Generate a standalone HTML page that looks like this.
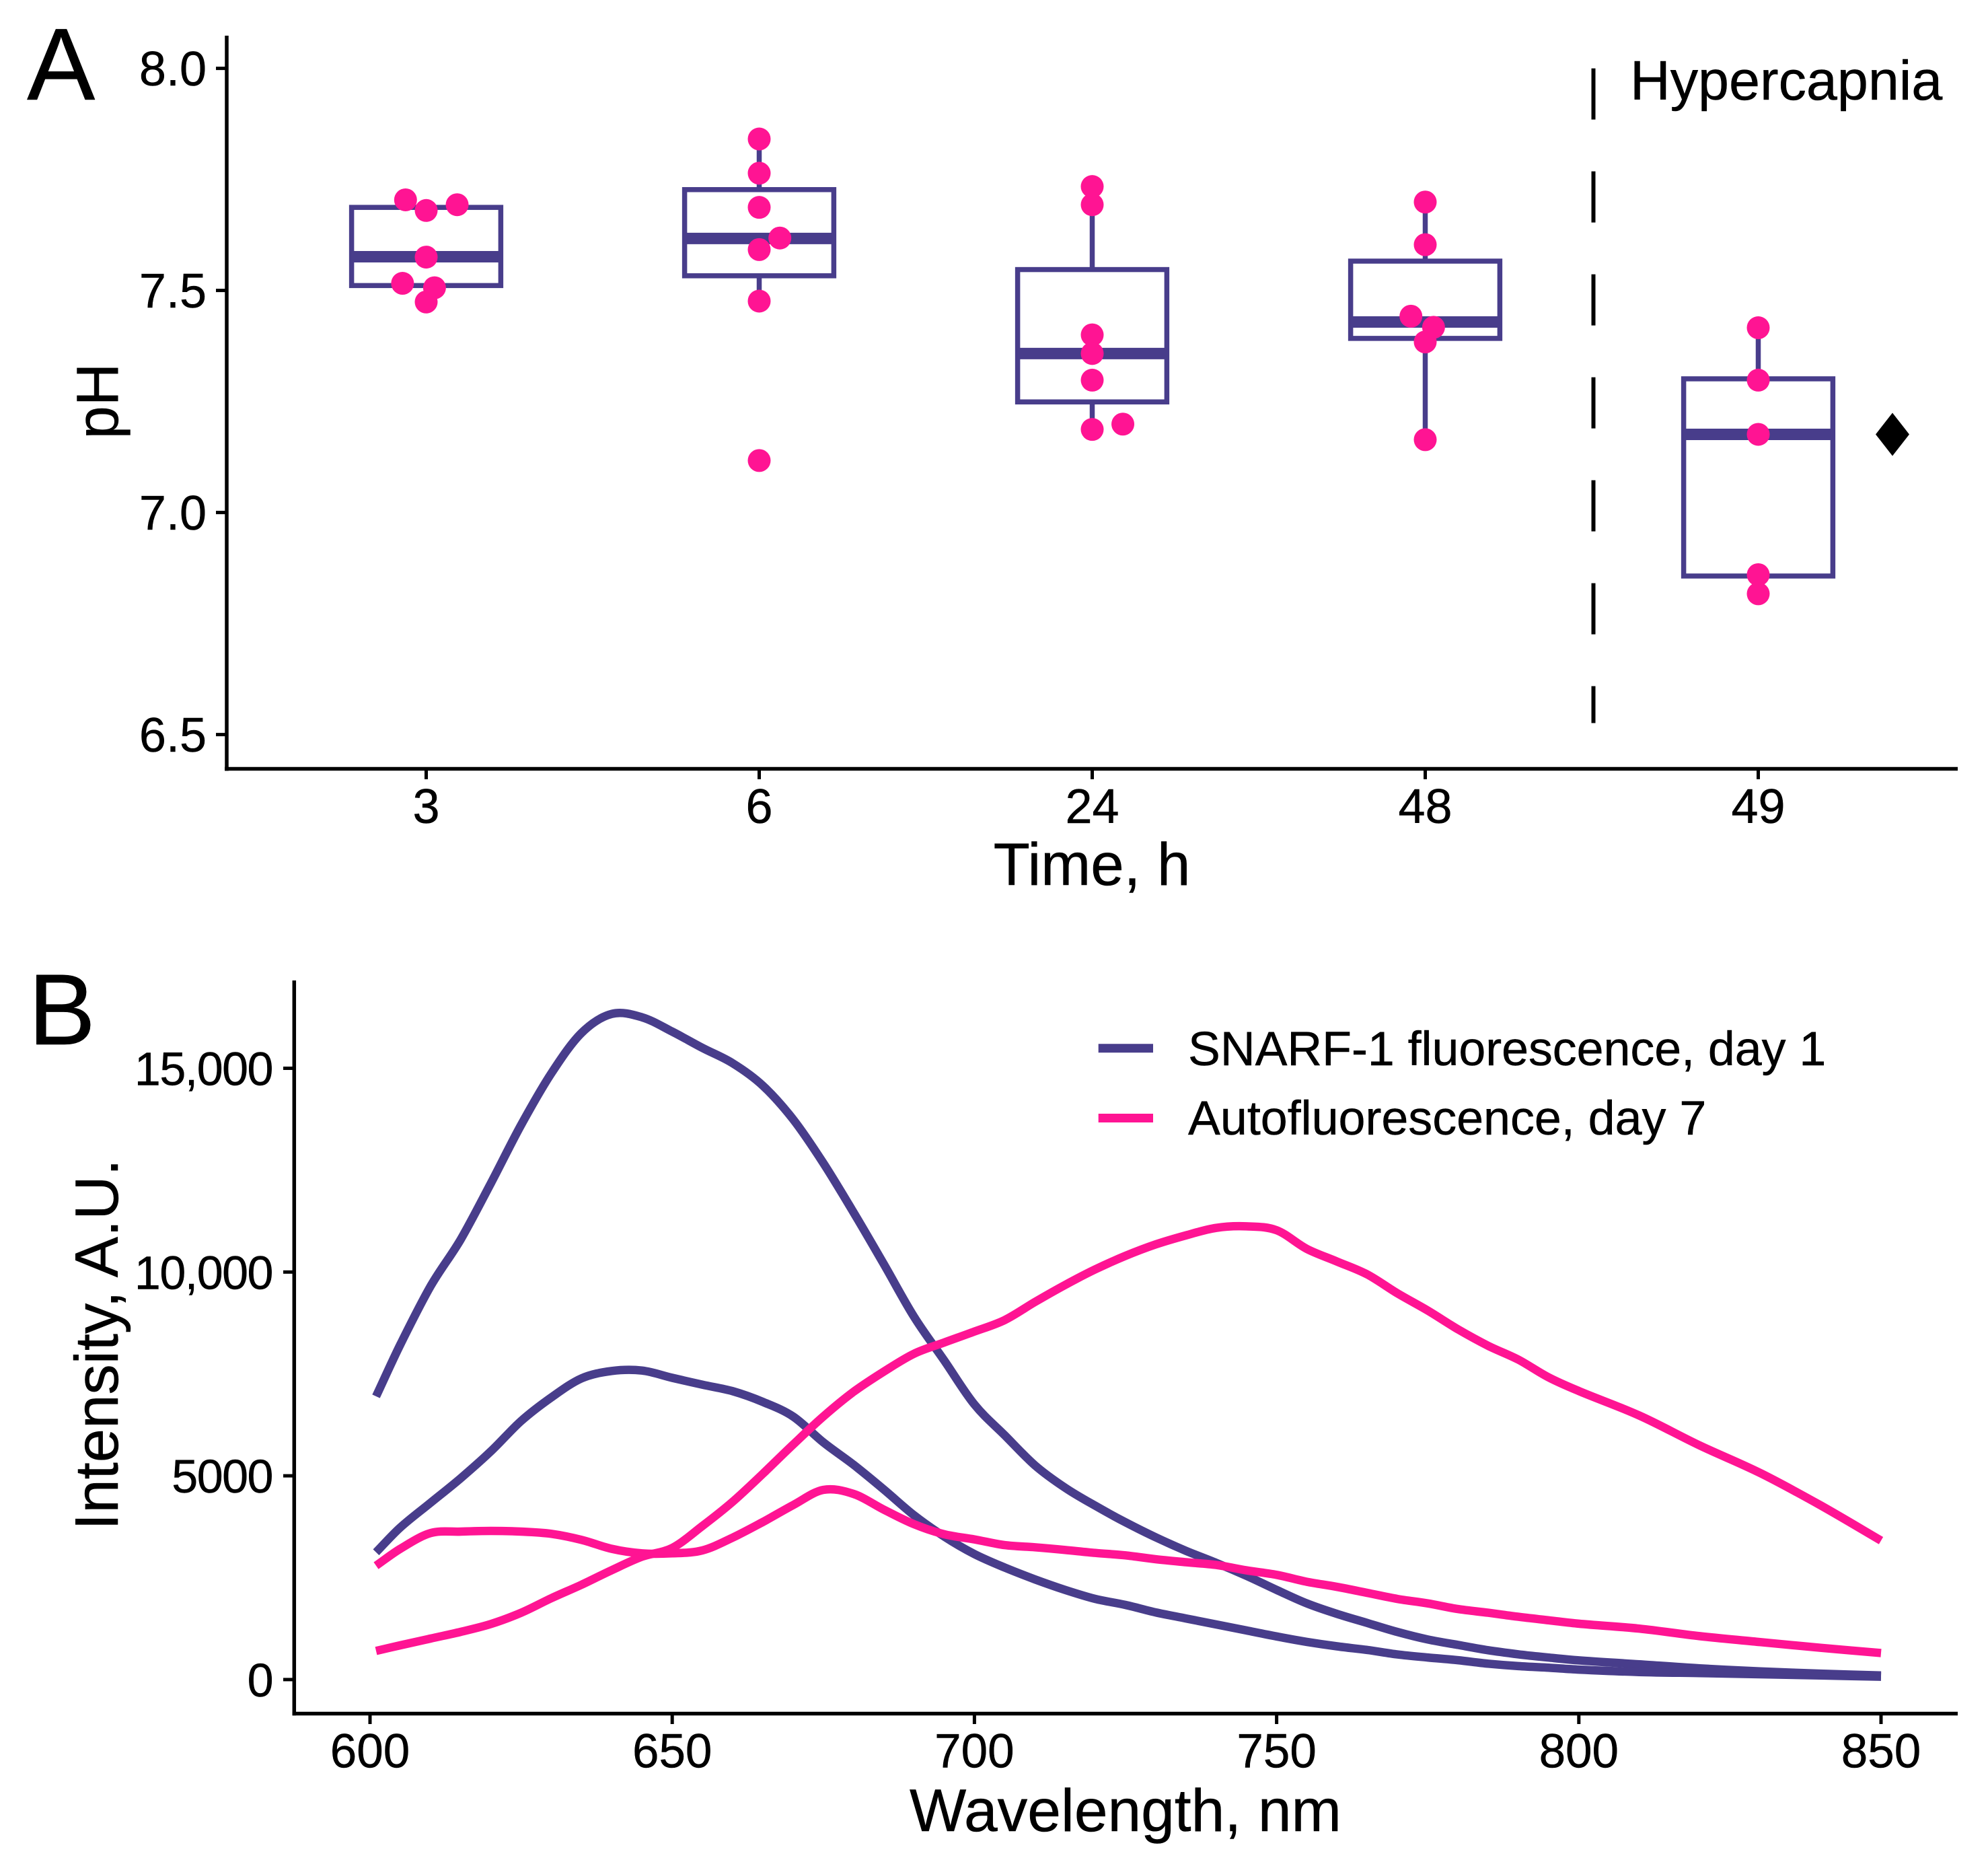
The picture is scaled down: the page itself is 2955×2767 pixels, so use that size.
<!DOCTYPE html>
<html lang="en">
<head>
<meta charset="utf-8">
<title>pH over time and fluorescence spectra</title>
<style>
html,body{margin:0;padding:0;background:#fff;}
svg{display:block;}
text{font-family:"Liberation Sans",Arial,sans-serif;fill:#000;stroke:#000;stroke-width:0.5px;}
</style>
</head>
<body>
<svg id="figure" xmlns="http://www.w3.org/2000/svg" width="2955" height="2767" viewBox="0 0 2955 2767">
  <rect x="0" y="0" width="2955" height="2767" fill="#fff"/>

  <g id="panelA">
    <text x="40" y="148" font-size="152">A</text>
    <line x1="337" y1="53" x2="337" y2="1145.5" stroke="#000" stroke-width="5.5"/>
    <line x1="334" y1="1142.5" x2="2910" y2="1142.5" stroke="#000" stroke-width="5.5"/>
    <line x1="2368.5" y1="101.6" x2="2368.5" y2="1074.5" stroke="#000" stroke-width="6" stroke-dasharray="76 77"/>
    <text x="2423" y="148" font-size="82.7">Hypercapnia</text>
    <text x="1623" y="1315" font-size="88.8" text-anchor="middle">Time, h</text>
    <text transform="translate(175 596) rotate(-90)" font-size="88" text-anchor="middle">pH</text>
  </g>

  <g id="panelB">
    <text x="42" y="1552" font-size="150">B</text>
    <line x1="437.3" y1="1457" x2="437.3" y2="2549.3" stroke="#000" stroke-width="5.5"/>
    <line x1="434.5" y1="2546.5" x2="2910" y2="2546.5" stroke="#000" stroke-width="5.5"/>
    <text x="1673" y="2721" font-size="89.3" text-anchor="middle">Wavelength, nm</text>
    <text transform="translate(175 1998) rotate(-90)" font-size="90.5" text-anchor="middle">Intensity, A.U.</text>
    <g>
      <line x1="1632.7" y1="1557.8" x2="1714" y2="1557.8" stroke="#483D8B" stroke-width="13"/>
      <text x="1766" y="1583" font-size="71.7">SNARF-1 fluorescence, day 1</text>
      <line x1="1632.7" y1="1661.5" x2="1714" y2="1661.5" stroke="#FF1493" stroke-width="13"/>
      <text x="1766" y="1686" font-size="71.8">Autofluorescence, day 7</text>
    </g>
  </g>
</svg>

<script>
// ---------- Panel A data ----------
const timeCategories = ['3', '6', '24', '48', '49'];
const phTickLabels = ['6.5', '7.0', '7.5', '8.0'];
const boxQ1 = [7.511, 7.533, 7.249, 7.392, 6.857];
const boxMedian = [7.576, 7.617, 7.358, 7.429, 7.176];
const boxQ3 = [7.687, 7.727, 7.547, 7.566, 7.301];
const whiskerLow = [7.474, 7.476, 7.187, 7.164, 6.817];
const whiskerHigh = [7.704, 7.841, 7.734, 7.699, 7.416];
const pointValues = [
  [7.704, 7.680, 7.693, 7.575, 7.516, 7.506, 7.474],
  [7.841, 7.764, 7.687, 7.618, 7.592, 7.476, 7.117],
  [7.734, 7.693, 7.400, 7.358, 7.298, 7.187, 7.199],
  [7.699, 7.603, 7.442, 7.417, 7.384, 7.164],
  [7.416, 7.298, 7.176, 6.860, 6.817]
];
const pointJitter = [
  [-0.062, 0, 0.093, 0, -0.071, 0.025, 0],
  [0, 0, 0, 0.062, 0, 0, 0],
  [0, 0, 0, 0, 0, 0, 0.092],
  [0, 0, -0.043, 0.025, 0, 0],
  [0, 0, 0, 0, 0]
];
const diamondCategory = 4.403;
const diamondValue = 7.176;

// ---------- Panel B data ----------
const wavelengthTickLabels = ['600', '650', '700', '750', '800', '850'];
const intensityTickValues = [0, 5000, 10000, 15000];
const intensityTickLabels = ['0', '5000', '10,000', '15,000'];
const wavelengths = [601,605,610,615,620,625,630,635,640,645,650,655,660,665,670,675,680,685,690,695,700,705,710,715,720,725,730,735,740,745,750,755,760,765,770,775,780,785,790,795,800,810,820,830,840,850];
const snarfHigh = [6950,8216,9647,10800,12180,13610,14876,15867,16335,16252,15900,15500,15124,14573,13748,12675,11464,10198,8904,7831,6750,5997,5260,4707,4265,3859,3490,3159,2864,2547,2200,1869,1611,1389,1168,984,850,720,620,540,470,375,275,200,145,100];
const snarfLow = [3125,3731,4336,4941,5602,6345,6923,7391,7572,7583,7405,7235,7077,6813,6455,5822,5272,4666,4033,3510,3080,2750,2459,2200,1979,1832,1648,1500,1353,1205,1058,925,815,726,616,542,475,390,330,290,245,185,160,130,100,70];
const autoHigh = [703,841,1006,1171,1364,1639,1997,2327,2685,3015,3230,3770,4363,5051,5767,6455,7060,7556,7996,8271,8540,8821,9263,9683,10066,10398,10678,10900,11084,11121,11025,10568,10258,9941,9477,9056,8595,8190,7850,7415,7080,6480,5745,5070,4275,3410];
const autoLow = [2795,3208,3593,3631,3648,3631,3576,3428,3208,3098,3098,3170,3483,3868,4281,4655,4556,4171,3813,3566,3440,3300,3247,3181,3107,3048,2952,2879,2812,2680,2569,2400,2274,2127,1979,1869,1730,1640,1540,1455,1370,1250,1065,920,780,650];

// ---------- Axis functions ----------
function xA(category) { return 633.5 + 495 * category; }
function yA(ph) { return 101.6 + (8 - ph) * 660; }
function xB(nm) { return 550 + (nm - 600) * 8.984; }
function yB(value) { return 2495.9 - value * 0.06056; }

const NS = 'http://www.w3.org/2000/svg';
const NAVY = '#483D8B';
const PINK = '#FF1493';
const panelA = document.getElementById('panelA');
const panelB = document.getElementById('panelB');

function mk(tag, parent, props) {
  const el = document.createElementNS(NS, tag);
  for (const k in props) { el.setAttribute(k, props[k]); }
  parent.appendChild(el);
  return el;
}

// Panel A ticks
phTickLabels.forEach(function (label) {
  const y = yA(parseFloat(label));
  const tick = mk('line', panelA, {x1: 321, x2: 337, y1: y, y2: y, stroke: '#000', 'stroke-width': 5});
  
  
  const text = mk('text', panelA, {x: 307, y: y + 25.5, 'font-size': 72, 'text-anchor': 'end'});
  text.textContent = label;
  
  
});
timeCategories.forEach(function (label, i) {
  const x = xA(i);
  const tick = mk('line', panelA, {x1: x, x2: x, y1: 1142.5, y2: 1158, stroke: '#000', 'stroke-width': 5});
  
  
  const text = mk('text', panelA, {x: x, y: 1223, 'font-size': 72, 'text-anchor': 'middle'});
  text.textContent = label;
  
  
});

// Panel A boxes
timeCategories.forEach(function (label, i) {
  const x = xA(i);
  const halfWidth = 0.224 * 495;
  const whiskerUp = mk('line', panelA, {x1: x, x2: x, y1: yA(boxQ3[i]), y2: yA(whiskerHigh[i]), stroke: NAVY, 'stroke-width': 7.5});
  
  
  const whiskerDown = mk('line', panelA, {x1: x, x2: x, y1: yA(boxQ1[i]), y2: yA(whiskerLow[i]), stroke: NAVY, 'stroke-width': 7.5});
  
  
  const box = mk('rect', panelA, {x: x - halfWidth, width: 2 * halfWidth, y: yA(boxQ3[i]), height: yA(boxQ1[i]) - yA(boxQ3[i]), fill: 'none', stroke: NAVY, 'stroke-width': 7.5});
  
  
  const median = mk('line', panelA, {x1: x - halfWidth, x2: x + halfWidth, y1: yA(boxMedian[i]), y2: yA(boxMedian[i]), stroke: NAVY, 'stroke-width': 17});
  
  
});

// Panel A points
pointValues.forEach(function (values, i) {
  values.forEach(function (value, j) {
    const point = mk('circle', panelA, {cx: xA(i + pointJitter[i][j]), cy: yA(value), r: 17, fill: PINK});
    
    
  });
});

// Panel A diamond marker
(function () {
  const cx = xA(diamondCategory);
  const cy = yA(diamondValue);
  const marker = mk('polygon', panelA, {
    points: (cx - 25) + ',' + cy + ' ' + cx + ',' + (cy - 32) + ' ' + (cx + 25) + ',' + cy + ' ' + cx + ',' + (cy + 32),
    fill: '#000'
  });
  
  
})();

// Panel B ticks
intensityTickValues.forEach(function (value, i) {
  const y = yB(value);
  const tick = mk('line', panelB, {x1: 421, x2: 437, y1: y, y2: y, stroke: '#000', 'stroke-width': 5});
  
  
  const text = mk('text', panelB, {x: 405, y: y + 25, 'font-size': 70, 'text-anchor': 'end', 'letter-spacing': -1.5});
  text.textContent = intensityTickLabels[i];
  
  
});
wavelengthTickLabels.forEach(function (label) {
  const x = xB(parseFloat(label));
  const tick = mk('line', panelB, {x1: x, x2: x, y1: 2546.5, y2: 2562, stroke: '#000', 'stroke-width': 5});
  
  
  const text = mk('text', panelB, {x: x, y: 2626.5, 'font-size': 71, 'text-anchor': 'middle'});
  text.textContent = label;
  
  
});

// Panel B curves: smooth path through the data points
function curvePath(values) {
  const px = values.map(function (v, i) { return xB(wavelengths[i]); });
  const py = values.map(function (v) { return yB(v); });
  let d = 'M' + px[0].toFixed(1) + ' ' + py[0].toFixed(1);
  for (let i = 0; i < values.length - 1; i++) {
    const a = Math.max(i - 1, 0);
    const b = Math.min(i + 2, values.length - 1);
    const h = px[i + 1] - px[i];
    const m1 = (py[i + 1] - py[a]) / (px[i + 1] - px[a]);
    const m2 = (py[b] - py[i]) / (px[b] - px[i]);
    d += ' C' + (px[i] + h / 3).toFixed(1) + ' ' + (py[i] + m1 * h / 3).toFixed(1) + ' ' +
      (px[i + 1] - h / 3).toFixed(1) + ' ' + (py[i + 1] - m2 * h / 3).toFixed(1) + ' ' +
      px[i + 1].toFixed(1) + ' ' + py[i + 1].toFixed(1);
  }
  return d;
}
const curveSnarfHigh = mk('path', panelB, {d: curvePath(snarfHigh), fill: 'none', stroke: NAVY, 'stroke-width': 12.5, 'stroke-linejoin': 'round'});


const curveSnarfLow = mk('path', panelB, {d: curvePath(snarfLow), fill: 'none', stroke: NAVY, 'stroke-width': 12.5, 'stroke-linejoin': 'round'});


const curveAutoLow = mk('path', panelB, {d: curvePath(autoLow), fill: 'none', stroke: PINK, 'stroke-width': 12.5, 'stroke-linejoin': 'round'});


const curveAutoHigh = mk('path', panelB, {d: curvePath(autoHigh), fill: 'none', stroke: PINK, 'stroke-width': 12.5, 'stroke-linejoin': 'round'});


</script>
</body>
</html>
